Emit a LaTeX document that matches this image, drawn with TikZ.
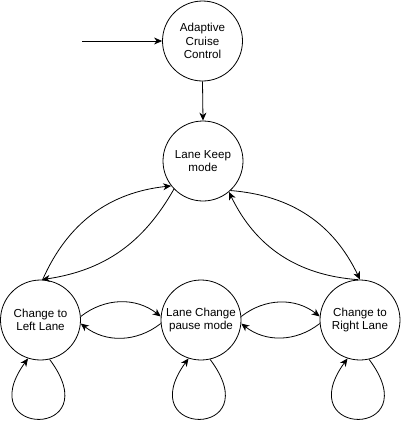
\documentclass[tikz,border=0pt]{standalone}
\usepackage{fontspec}
\setmainfont{Liberation Sans}
\usetikzlibrary{arrows.meta}
\begin{document}
\begin{tikzpicture}[x=1pt,y=-1pt,
  state/.style={draw,circle,line width=0.8pt,minimum size=80pt,inner sep=0pt,align=center,
    font=\fontsize{11.6}{13.4}\selectfont},
  edge/.style={line width=0.8pt,-{Stealth[length=8pt,width=7pt,inset=2.5pt]}},
  loopedge/.style={edge}]
\useasboundingbox (0,0) rectangle (401,421);
\node[state] (acc) at (202.5,41) {Adaptive\\Cruise\\Control};
\node[state] (keep) at (203,161) {Lane Keep\\mode};
\node[state] (left) at (40.5,320) {Change to\\Left Lane};
\node[state] (pause) at (201,320) {Lane Change\\pause mode};
\node[state] (right) at (360,320) {Change to\\Right Lane};
\coordinate (start) at (82,41);
\draw[edge] (start) -- (acc.west);
\draw[edge] (acc.south) -- (keep.north);
% left lens
\draw[edge] (left.87) to[bend left=30] (keep.218);
\draw[edge] (keep.224) to[bend left=26] (left.88);
% right lens
\draw[edge] (keep.313) to[bend left=30] (right.90);
\draw[edge] (right.93) to[bend left=30] (keep.310);
% horizontal pairs
\draw[edge] (left.5) to[bend left=38] (pause.175);
\draw[edge] (pause.185) to[bend left=38] (left.355);
\draw[edge] (pause.5) to[bend left=38] (right.175);
\draw[edge] (right.185) to[bend left=38] (pause.355);
% self loops
\draw[loopedge] (left.283) .. controls +(60,80) and +(-58,80) .. (left.252);
\draw[loopedge] (pause.283) .. controls +(60,80) and +(-58,80) .. (pause.252);
\draw[loopedge] (right.283) .. controls +(60,80) and +(-58,80) .. (right.252);
\end{tikzpicture}
\end{document}
